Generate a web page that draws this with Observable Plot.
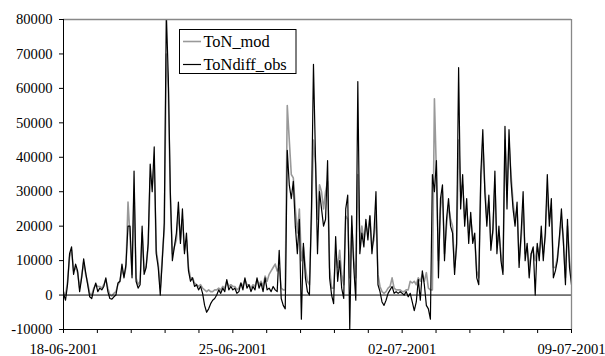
<!DOCTYPE html>
<html>
<head>
<meta charset="utf-8">
<script src="https://cdn.jsdelivr.net/npm/d3@7"></script>
<script src="https://cdn.jsdelivr.net/npm/@observablehq/plot@0.6"></script>
<style>
  html, body { margin: 0; padding: 0; background: #fff; }
  #chart { position: relative; width: 605px; height: 356px; }
</style>
</head>
<body>
<div id="chart"></div>
<script>
// Two-hourly ToN series, 18-06-2001 00:00 to 09-07-2001 00:00
const startDate = new Date(2001, 5, 18);
const endDate = new Date(2001, 6, 9);
const stepHours = 2;

const seriesNames = ["ToN_mod", "ToNdiff_obs"];
const dateLabels = ["18-06-2001", "25-06-2001", "02-07-2001", "09-07-2001"];
const yTicks = [-10000, 0, 10000, 20000, 30000, 40000, 50000, 60000, 70000, 80000];

// observed (ToNdiff_obs)
const obs = [
  500, -1500, 3000, 12000, 14000, 6000, 9000, 7000, 1000, 5000,
  10500, 6500, 3000, -500, -1000, 1500, 3500, 1000, 2000, 1500,
  2500, 5000, 1000, -1000, -1200, -500, 0, 3500, 4000, 9000,
  5000, 9000, 20000, 20000, 5000, 36000, 4000, 2000, 3000, 20000,
  6000, 8000, 15000, 38000, 30000, 43000, 12000, 8000, 0, 10000,
  21000, 82000, 63000, 30000, 10000, 14000, 18000, 27000, 15000, 25000,
  12000, 18000, 7000, 4000, 5000, 2500, 3000, 1500, 2500, 500,
  -3000, -5000, -4000, -2500, -1500, -1000, 0, 1500, 500, 2000,
  1000, 4500, 1500, 2500, 1500, 2000, 500, 1000, 3500, 1500,
  5000, 2000, 3000, 1000, 2500, 1500, 5000, 2000, 3500, 1000,
  5000, 1500, 2000, 1000, 2500, 1500, 1000, 13000, -1000, -3000,
  -4000, 42000, 32000, 28000, 33000, 20000, 12000, 22000, -7000, 15000,
  5000, 1000, 0, 25000, 67000, 40000, 12000, 30000, 25000, 20000,
  22000, 39000, 5000, 0, -2500, 17000, 4000, 10000, 2000, -1000,
  25000, 29000, -10000, 23000, 8000, -1500, 62000, 12000, 18000, 14000,
  22000, 16000, 23000, 12000, 18000, 30000, 3000, 1000, -2000, -3000,
  -1500, 500, 1500, 2500, 500, 1000, 500, 1000, 500, 0,
  1000, -500, 500, -2000, -4500, -2000, 4500, -1500, 7000, 3000,
  -3000, -4000, -7000, 35000, 30000, 39000, 5000, 28000, 32000, 10000,
  22000, 28000, 20000, 18000, 6000, 15000, 66000, 25000, 35000, 20000,
  28000, 15000, 24000, 15000, 18000, 5000, 3000, 35000, 48000, 30000,
  20000, 29000, 13000, 19000, 36000, 12000, 20000, 10000, 6000, 49000,
  25000, 48000, 33000, 25000, 20000, 27000, 8000, 18000, 30000, 10000,
  15000, 5000, 12000, 14000, 0, 15000, 10000, 20000, 10000, 18000,
  35000, 20000, 28000, 5000, 7000, 10000, 17000, 25000, 15000, 3000,
  22000, 8000, 3000
];

// modelled (ToN_mod)
const mod = [
  1000, 0, 4000, 11000, 13000, 7000, 8000, 6500, 2000, 5500,
  9500, 6000, 3500, 500, 0, 2000, 3000, 2500, 2500, 2000,
  3000, 4500, 2000, 0, -300, 500, 1000, 3000, 4000, 7500,
  5500, 8000, 27000, 17000, 6000, 30000, 5000, 3000, 4000, 18000,
  7000, 8500, 14000, 34000, 32000, 38000, 13000, 9000, 2000, 11000,
  19000, 70000, 60000, 28000, 12000, 14000, 16000, 24000, 16000, 22000,
  13000, 16000, 8000, 5000, 5000, 3500, 3000, 2500, 3000, 2000,
  1500, 1000, 1500, 1000, 1000, 1500, 1500, 2000, 1500, 2500,
  2000, 4000, 2500, 3000, 2500, 2500, 1500, 2000, 3500, 2500,
  4500, 3000, 3000, 2000, 3000, 2500, 4500, 3000, 4000, 2500,
  5500, 4000, 6000, 7000, 8000, 9000, 7000, 8000, 2000, 1500,
  1500, 55000, 45000, 35000, 34000, 25000, 18000, 25000, 10000, 14000,
  8000, 4000, 3000, 22000, 45000, 38000, 22000, 32000, 30000, 25000,
  30000, 33000, 8000, 2000, 2000, 12000, 8000, 13000, 6000, 3000,
  23000, 22000, 5000, 20000, 10000, 5000, 35000, 15000, 20000, 16000,
  20000, 18000, 23000, 14000, 16000, 24000, 6000, 2500, 1000, 500,
  1000, 2000, 2500, 5000, 2000, 1500, 1500, 1500, 1000, 1000,
  1500, 1500, 4000, 3500, 4000, 3000, 5000, 4000, 6000, 4000,
  6500, 2000, 1500, 1500, 57000, 35000, 10000, 25000, 30000, 12000,
  20000, 26000, 22000, 20000, 8000, 14000, 45000, 30000, 32000, 22000,
  25000, 18000, 22000, 17000, 16000, 7000, 5000, 32000, 44000, 32000,
  22000, 27000, 15000, 18000, 32000, 14000, 18000, 12000, 7000, 45000,
  30000, 44000, 35000, 27000, 22000, 25000, 10000, 16000, 26000, 12000,
  14000, 8000, 12000, 13000, 10000, 14000, 12000, 17000, 12000, 17000,
  30000, 22000, 25000, 8000, 8000, 11000, 16000, 22000, 16000, 5000,
  20000, 10000, 5000
];

const rows = obs.map((v, i) => ({
  date: new Date(+startDate + i * stepHours * 3600e3),
  obs: v,
  mod: mod[i]
}));

// 15 tick intervals on the time axis, a date label on every fifth tick
const tickDates = d3.range(16).map(k => new Date(+startDate + k * (endDate - startDate) / 15));
const labelFor = new Map(tickDates.filter((d, k) => k % 5 === 0).map((d, j) => [+d, dateLabels[j]]));

const fontFamily = "'Liberation Serif', 'Times New Roman', serif";

const chart = Plot.plot({
  width: 605,
  height: 356,
  marginLeft: 63,
  marginRight: 34,
  marginTop: 19,
  marginBottom: 27,
  style: { fontFamily, fontSize: "14.6px", color: "#000", background: "#fff", overflow: "visible" },
  x: { type: "time", domain: [startDate, endDate] },
  y: { domain: [-10000, 80000] },
  marks: [
    Plot.lineY(rows, { x: "date", y: "mod", stroke: "#999", strokeWidth: 1.6, clip: true }),
    Plot.lineY(rows, { x: "date", y: "obs", stroke: "#000", strokeWidth: 1.2, clip: true }),
    Plot.ruleY([0], { stroke: "#000", strokeWidth: 1 }),
    Plot.ruleY([80000], { stroke: "#888", strokeWidth: 1.3 }),
    Plot.ruleX([endDate], { stroke: "#888", strokeWidth: 1.3 }),
    Plot.ruleX([startDate], { stroke: "#000", strokeWidth: 1 }),
    Plot.ruleY([-10000], { stroke: "#000", strokeWidth: 1 }),
    Plot.axisY({ ticks: yTicks, tickSize: 4, tickPadding: 7, tickFormat: d => String(d), label: null, fontSize: "14.6px" }),
    Plot.axisX({ ticks: tickDates, tickSize: 4, tickPadding: 10, tickFormat: d => labelFor.get(+d) || "", label: null, fontSize: "14.6px" })
  ]
});

document.getElementById("chart").appendChild(chart);

// legend box inside the plot area
const svg = d3.select(chart);
const legend = svg.append("g")
  .attr("font-family", fontFamily)
  .attr("font-size", "16.4px")
  .attr("text-anchor", "start");
legend.append("rect")
  .attr("x", 179.5).attr("y", 29.5).attr("width", 116.5).attr("height", 44)
  .attr("fill", "#fff").attr("stroke", "#000").attr("stroke-width", 1);
const legendColors = ["#999", "#000"];
seriesNames.forEach((name, k) => {
  const cy = 41.5 + k * 23;
  legend.append("line")
    .attr("x1", 183).attr("x2", 201).attr("y1", cy).attr("y2", cy)
    .attr("stroke", legendColors[k]).attr("stroke-width", k === 0 ? 1.6 : 1.2);
  legend.append("text")
    .attr("x", 203.5).attr("y", cy + 5.3)
    .attr("text-anchor", "start")
    .attr("fill", "#000")
    .attr("stroke", "none")
    .text(name);
});
</script>
</body>
</html>
